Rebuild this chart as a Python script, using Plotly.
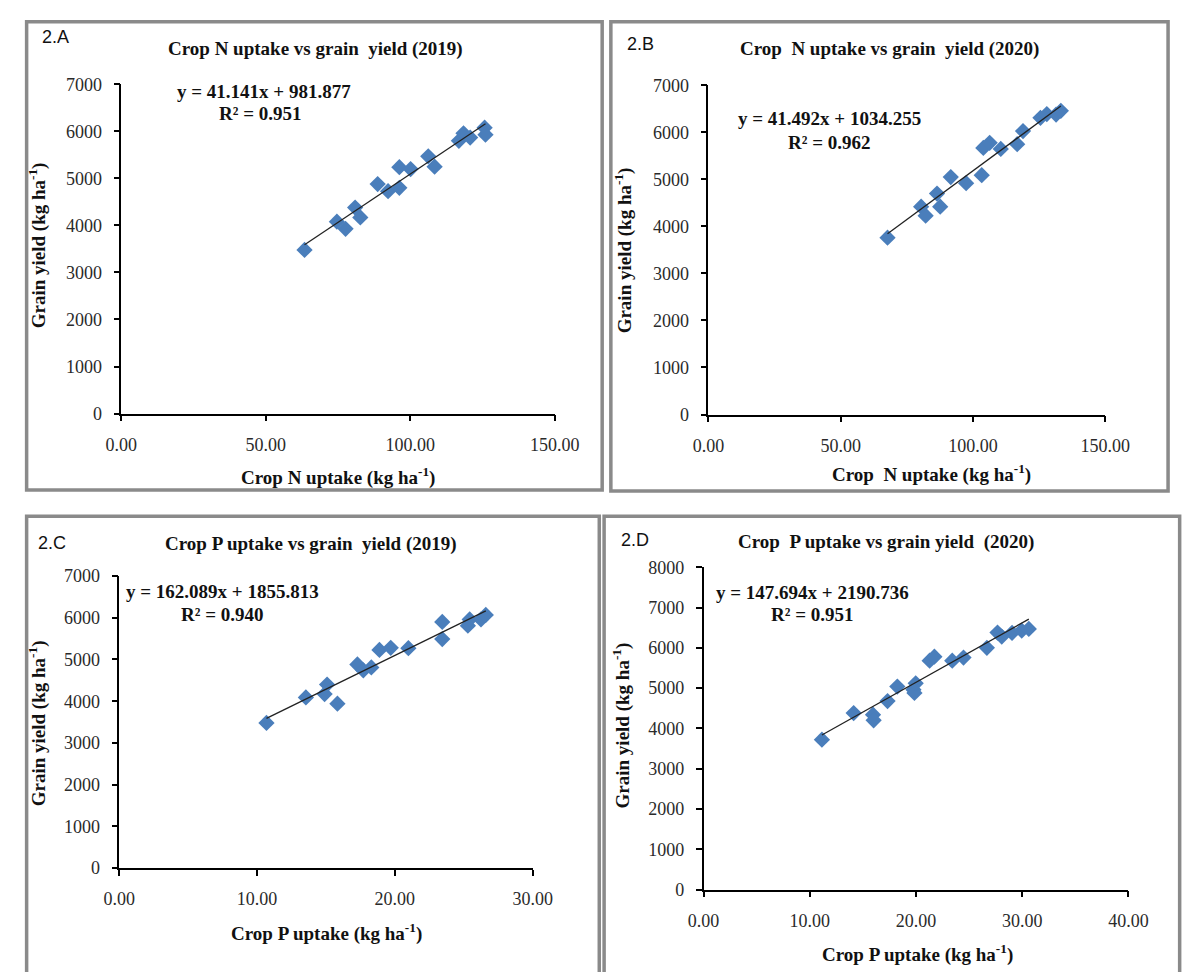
import plotly.graph_objects as go

W, H = 1195, 972

# ---------------- data ----------------
n_uptake_2019 = [63.4, 74.6, 77.6, 80.9, 82.7, 88.7, 92.3, 96.2, 96.2, 100.1, 106.2, 108.4, 116.8, 118.4, 120.7, 125.7, 126.0]
yield_n_2019 = [3480, 4080, 3930, 4380, 4170, 4880, 4730, 4800, 5240, 5200, 5470, 5250, 5800, 5960, 5870, 6080, 5930]

n_uptake_2020 = [67.7, 80.4, 82.1, 86.4, 87.6, 91.6, 97.4, 103.3, 103.9, 106.3, 110.5, 116.7, 118.9, 125.5, 127.9, 131.4, 133.2]
yield_n_2020 = [3760, 4420, 4230, 4700, 4420, 5050, 4920, 5090, 5670, 5780, 5650, 5750, 6030, 6310, 6390, 6380, 6460]

p_uptake_2019 = [10.68, 13.54, 14.9, 15.08, 15.83, 17.28, 17.71, 18.29, 18.88, 19.7, 20.98, 23.44, 23.44, 25.3, 25.43, 26.25, 26.6]
yield_p_2019 = [3480, 4090, 4170, 4400, 3940, 4880, 4740, 4810, 5230, 5280, 5270, 5900, 5490, 5810, 5960, 5960, 6070]

p_uptake_2020 = [11.14, 14.13, 15.95, 16.01, 17.32, 18.24, 19.76, 19.85, 19.97, 21.28, 21.73, 23.41, 24.47, 26.67, 27.67, 28.07, 29.04, 29.95, 30.62]
yield_p_2020 = [3720, 4380, 4340, 4200, 4680, 5040, 4960, 4880, 5120, 5680, 5780, 5680, 5760, 6000, 6380, 6280, 6370, 6430, 6470]

slopes = [41.141, 41.492, 162.089, 147.694]
intercepts = [981.877, 1034.255, 1855.813, 2190.736]
r_squared = ["0.951", "0.962", "0.940", "0.951"]

panel_labels = ["2.A", "2.B", "2.C", "2.D"]
titles = ["Crop N uptake vs grain  yield (2019)",
          "Crop&nbsp;&nbsp;N uptake vs grain&nbsp;&nbsp;yield (2020)",
          "Crop P uptake vs grain&nbsp;&nbsp;yield (2019)",
          "Crop&nbsp;&nbsp;P uptake vs grain yield&nbsp;&nbsp;(2020)"]
x_titles = ["Crop N uptake (kg ha<sup>-1</sup>)",
            "Crop&nbsp;&nbsp;N uptake (kg ha<sup>-1</sup>)",
            "Crop P uptake (kg ha<sup>-1</sup>)",
            "Crop P uptake (kg ha<sup>-1</sup>)"]
y_title = "Grain yield (kg ha<sup>-1</sup>)"

x_ticks = [[0, 50, 100, 150], [0, 50, 100, 150], [0, 10, 20, 30], [0, 10, 20, 30, 40]]
y_ticks = [[0, 1000, 2000, 3000, 4000, 5000, 6000, 7000]] * 3 + [[0, 1000, 2000, 3000, 4000, 5000, 6000, 7000, 8000]]

xs = [n_uptake_2019, n_uptake_2020, p_uptake_2019, p_uptake_2020]
ys = [yield_n_2019, yield_n_2020, yield_p_2019, yield_p_2020]

# ---------------- layout geometry (pixels) ----------------
# plot area: x0, x1, ytop, ybottom
areas = [(109, 558, 76, 412), (717, 1128, 77, 413), (107, 535, 578, 876), (712, 1152, 569, 898)]
boxes = [(11, 12, 607, 490), (616, 12, 1193, 491), (11, 517, 604, 990), (609, 517, 1205, 990)]
lab_pos = [(41, 28), (647, 35), (37, 544), (641, 541)]
title_pos = [(310, 40), (905, 40), (305, 545), (901, 543)]
eq_pos = [(257, 83), (842, 111), (214, 594), (825, 595)]
r2_pos = [(253, 106), (842, 135), (214, 617), (825, 617)]
ytitle_pos = [(22, 240), (630, 245), (22, 728), (628, 730)]
xtitle_pos = [(333, 476), (948, 473), (322, 942), (934, 963)]

def fx(p):
    return p / W

def fy(p):
    return 1 - p / H

SERIF = "Liberation Serif"
TICKFONT = dict(family=SERIF, size=18, color="#2a2a2a")
fig = go.Figure()
layout = dict(width=W, height=H, margin=dict(l=0, r=0, t=0, b=0),
              paper_bgcolor="white", plot_bgcolor="white", showlegend=False)
annotations = []
shapes = []


def ann(text, pos, size, bold=True, family=SERIF, angle=0):
    annotations.append(dict(text=("<b>%s</b>" % text) if bold else text, xref="paper", yref="paper",
                            x=fx(pos[0]), y=fy(pos[1]), xanchor="center", yanchor="middle",
                            showarrow=False, textangle=angle,
                            font=dict(family=family, size=size, color="#111")))


for i in range(4):
    k = "" if i == 0 else str(i + 1)
    x0, x1, yt, yb = areas[i]
    xmax = x_ticks[i][-1]
    ymax = y_ticks[i][-1]
    common = dict(showgrid=False, zeroline=False, showline=True, linecolor="black", linewidth=1.5,
                  ticks="outside", ticklen=6, tickcolor="black", tickwidth=1.5, tickfont=TICKFONT)
    layout["xaxis" + k] = dict(domain=[fx(x0), fx(x1)], range=[0, xmax], anchor="y" + k,
                               tickvals=x_ticks[i], tickformat=".2f", ticklabelstandoff=8, **common)
    layout["yaxis" + k] = dict(domain=[fy(yb), fy(yt)], range=[0, ymax], anchor="x" + k,
                               tickvals=y_ticks[i], ticklabelstandoff=8, **common)
    fig.add_trace(go.Scatter(x=xs[i], y=ys[i], mode="markers", xaxis="x" + k, yaxis="y" + k,
                             marker=dict(symbol="diamond", size=12.5, color="#4a7ebb")))
    lo, hi = min(xs[i]), max(xs[i])
    fig.add_trace(go.Scatter(x=[lo, hi], y=[slopes[i] * lo + intercepts[i], slopes[i] * hi + intercepts[i]],
                             mode="lines", xaxis="x" + k, yaxis="y" + k,
                             line=dict(color="#222", width=1.3)))
    bx0, by0, bx1, by1 = boxes[i]
    shapes.append(dict(type="rect", xref="paper", yref="paper", x0=fx(bx0), x1=fx(bx1),
                       y0=fy(by1), y1=fy(by0), line=dict(color="#8a8a8a", width=3.5)))

    ann(panel_labels[i], lab_pos[i], 18, bold=False, family="Liberation Sans")
    ann(titles[i], title_pos[i], 19)
    eq = "y = %.3fx + %.3f" % (slopes[i], intercepts[i])
    ann(eq, eq_pos[i], 19)
    ann("R² = " + r_squared[i], r2_pos[i], 19)
    ann(y_title, ytitle_pos[i], 19, angle=-90)
    ann(x_titles[i], xtitle_pos[i], 19)

layout["annotations"] = annotations
layout["shapes"] = shapes
fig.update_layout(**layout)
fig.write_html("out.html", config={"displayModeBar": False},
               post_script="document.body.style.margin='0';document.body.style.overflow='hidden';")
